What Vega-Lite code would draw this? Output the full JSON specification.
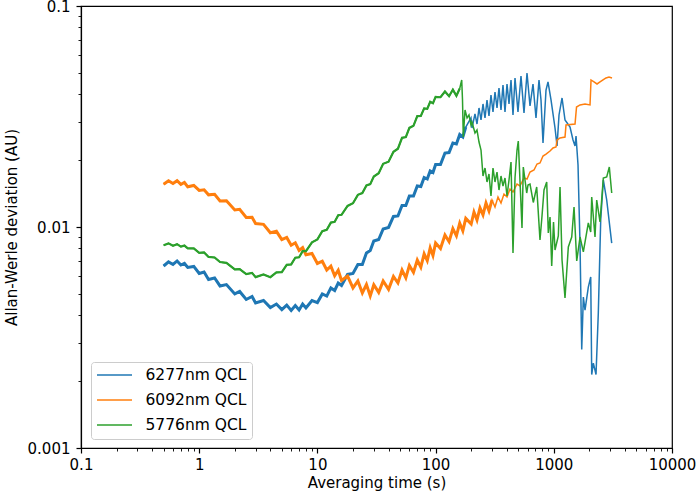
{
 "$schema": "https://vega.github.io/schema/vega-lite/v6.json",
 "width": 591,
 "height": 442,
 "autosize": {"type": "none"},
 "padding": {"left": 81, "top": 6, "right": 26, "bottom": 50},
 "background": "white",
 "datasets": {
  "blue": [
   [0.5,0.00666],[0.55,0.00695],[0.6,0.00677],[0.65,0.00702],[0.7,0.00673],[0.75,0.00684],[0.8,0.00656],[0.9,0.00663],[1,0.00616],[1.1,0.00626],[1.2,0.00579],[1.35,0.00588],[1.5,0.00541],[1.7,0.00549],[2,0.00498],[2.2,0.00511],[2.5,0.0047],[2.8,0.00485],[3,0.00453],[3.5,0.00465],[4,0.00432],[4.5,0.00448],[5,0.00423],[5.5,0.00443],[6,0.00419],[6.5,0.00441],[7,0.00421],[7.5,0.00448],[8,0.0043],[9,0.00465],[10,0.00455],[11,0.00498],[12,0.00487],[13,0.0053],[14,0.00516],[15,0.00558],[16,0.00544],[18,0.0061],[20,0.00616],[22,0.00677],[24,0.00677],[26,0.00763],[28,0.00783],[30,0.00864],[33,0.00878],[36,0.0098],[40,0.00995],[44,0.01116],[48,0.01122],[52,0.01251],[56,0.01251],[60,0.01381],[65,0.01381],[70,0.01533],[75,0.01525],[80,0.01675],[85,0.01649],[90,0.01792],[95,0.01764],[100,0.01918],[110,0.01918],[120,0.02161],[130,0.02173],[140,0.02399],[150,0.02374],[160,0.02622],[170,0.02554],[180,0.02834],
   [199.2,0.03114],[203.2,0.02805],[215.4,0.03247],[224,0.02925],[232.9,0.03456],[242.2,0.03049],[251.8,0.03603],[261.8,0.03114],[272.2,0.03756],[282.9,0.0318],[294.2,0.03957],[305.9,0.03315],[318.1,0.04082],[330.8,0.03456],[343.8,0.04256],[357.5,0.03385],[371.7,0.04391],[386.5,0.03315],[401.9,0.04437],[417.9,0.03603],[434.5,0.04626],[451.7,0.03213],[469.7,0.04723],[497.8,0.03315],[527.8,0.04822],[559.7,0.03281],[593.4,0.04976],[629.1,0.03529],[666.9,0.04437],[707.1,0.03114],[749.5,0.04626],[779.4,0.03756],[810.4,0.02399],[859.2,0.04168],[893.3,0.04531],[947.2,0.03756],[1024,0.02805],[1065,0.02325],[1107,0.03213],[1174,0.03835],[1244,0.03049],[1372,0.02834],[1454,0.02475],[1512,0.02325],[1542,0.02581],[1603,0.01908],[1667,0.00829],[1723,0.00279],[1778,0.00482],[1837,0.00421],[1959,0.00535],[2053,0.00594],[2093,0.00215],[2160,0.00242],[2276,0.00215],[2380,0.00408],[2494,0.01076],[2624,0.01632],[2803,0.01325],[3090,0.00846]
  ],
  "orange": [
   [0.5,0.0156],[0.55,0.01618],[0.6,0.01573],[0.65,0.0162],[0.7,0.0156],[0.75,0.0159],[0.8,0.0152],[0.9,0.01541],[1,0.01464],[1.1,0.01473],[1.2,0.01398],[1.35,0.01405],[1.5,0.01311],[1.7,0.01314],[2,0.01194],[2.2,0.01203],[2.5,0.01104],[2.8,0.01106],[3,0.01036],[3.5,0.01028],[4,0.00942],[4.5,0.00956],[5,0.00877],[5.5,0.00897],[6,0.00827],[6.5,0.00848],[7,0.00783],[7.5,0.00806],[8,0.00749],[9,0.00759],[10,0.00684],[11,0.007],[12,0.00639],[13,0.00665],[14,0.00602],[15,0.00637],[16,0.00573],[18,0.006],[20,0.0053],[22,0.0057],[24,0.00503],[26,0.00549],[28,0.00488],[30,0.00548],[33,0.00506],[36,0.0057],[40,0.00522],[44,0.00597],[48,0.00558],[52,0.00639],[56,0.00589],[60,0.0067],[65,0.00623],[70,0.00709],[75,0.00658],[80,0.00756],[85,0.00704],[90,0.00805],[95,0.00743],[100,0.00846],[110,0.00799],[120,0.0092],[130,0.00858],[140,0.00983],[150,0.00912],[160,0.01041],[170,0.00961],[180,0.01094],[200,0.01032],
   [211.2,0.01169],[224,0.01076],[237.5,0.01219],[251.8,0.01134],[267,0.01284],[282.9,0.01182],[300,0.01325],[318.1,0.01232],[337.2,0.01367],[357.5,0.01284],[379,0.0141],[401.9,0.01367],[426.1,0.01486],[451.7,0.0144],[488.4,0.01565],[517.6,0.01533],[559.7,0.01666],[593.4,0.01649],[629.1,0.01773],[680,0.01811],[721,0.01928],[764.3,0.01948],[810.4,0.02095],[859.2,0.02139],[928.9,0.02207],[984.9,0.02277],[1044,0.02301],[1065,0.02475],[1129,0.02528],[1244,0.02554],[1268.5,0.02894],[1512,0.02925],[1557,0.03492],[1667,0.03566],[1837,0.03603],[2025,0.03566],[2065,0.04626],[2189,0.04531],[2321,0.04437],[2460,0.04531],[2608,0.04626],[2765,0.04723],[2931,0.04772],[3108,0.04723]
  ],
  "green": [
   [0.5,0.00826],[0.55,0.00843],[0.6,0.00823],[0.65,0.00836],[0.7,0.00815],[0.75,0.00824],[0.8,0.00801],[0.9,0.008],[1,0.00764],[1.1,0.00767],[1.2,0.00732],[1.35,0.00728],[1.5,0.00694],[1.7,0.00688],[2,0.00643],[2.2,0.00645],[2.5,0.00612],[2.8,0.0062],[3,0.00593],[3.5,0.0061],[4,0.00593],[4.5,0.00623],[5,0.00625],[5.5,0.00674],[6,0.00677],[6.5,0.00726],[7,0.00729],[7.5,0.00777],[8,0.00777],[9,0.00853],[10,0.00879],[11,0.00957],[12,0.00972],[13,0.01047],[14,0.01056],[15,0.0113],[16,0.01135],[18,0.01246],[20,0.01281],[22,0.01398],[24,0.01425],[26,0.01542],[28,0.01563],[30,0.01692],[33,0.01751],[36,0.01932],[40,0.01975],[44,0.02188],[48,0.02261],[52,0.02533],[56,0.02551],[60,0.02808],[65,0.0287],[70,0.03177],[75,0.0318],[80,0.03442],[85,0.03424],[90,0.03686],[95,0.03629],[100,0.03877],[110,0.03865],[120,0.04103],[130,0.03908],[140,0.04185],[150,0.03924],[160,0.04233],
   [166.3,0.04626],[168.9,0.03756],[171.5,0.02554],[177.4,0.03385],[184.5,0.03114],[191.6,0.03213],[199.2,0.02894],[203.2,0.02986],[215.4,0.02663],[224,0.02748],[232.9,0.02424],[242.2,0.0223],[251.8,0.01701],[261.8,0.01849],[272.2,0.01598],[282.9,0.01737],[294.2,0.01381],[305.9,0.01849],[318.1,0.01598],[330.8,0.01773],[343.8,0.0147],[357.5,0.01701],[371.7,0.01533],[386.5,0.01666],[401.9,0.01381],[417.9,0.01632],[434.5,0.01968],[451.7,0.00763],[469.7,0.01666],[488.4,0.0223],[500.7,0.02449],[517.6,0.01615],[538.2,0.0099],[552,0.01869],[589.9,0.01425],[605.1,0.01549],[629.1,0.01565],[670.8,0.01291],[716.8,0.01517],[764.3,0.00873],[794.7,0.01122],[826.3,0.0147],[871,0.01598],[898.6,0.0094],[928.9,0.0111],[960.2,0.00666],[994.5,0.01054],[1024,0.00787],[1092,0.00911],[1129,0.01517],[1174,0.00709],[1244,0.00477],[1327,0.00812],[1418,0.00901],[1483,0.01232],[1563,0.00702],[1667,0.00901],[1778,0.00771],[1959,0.01043],[2053,0.00949],[2093,0.01367],[2232,0.00901],[2307,0.01325],[2460,0.01054],[2624,0.01666],[2803,0.01684],[2949,0.01869],[3090,0.01425]
  ]
 },
 "layer": [
  {
   "data": {"name": "blue"},
   "transform": [
    {"calculate": "datum[0]", "as": "t"},
    {"calculate": "datum[1]", "as": "v"},
    {"calculate": "'6277nm QCL'", "as": "s"},
    {"filter": "datum.t <= 181"}
   ],
   "mark": {"type": "line", "strokeWidth": 3, "clip": true},
   "encoding": {"x": {"field": "t", "type": "quantitative"}, "y": {"field": "v", "type": "quantitative"}, "color": {"field": "s", "type": "nominal"}}
  },
  {
   "data": {"name": "blue"},
   "transform": [
    {"calculate": "datum[0]", "as": "t"},
    {"calculate": "datum[1]", "as": "v"},
    {"calculate": "'6277nm QCL'", "as": "s"}
   ],
   "mark": {"type": "line", "strokeWidth": 1.5, "clip": true},
   "encoding": {"x": {"field": "t", "type": "quantitative"}, "y": {"field": "v", "type": "quantitative"}, "color": {"field": "s", "type": "nominal"}}
  },
  {
   "data": {"name": "orange"},
   "transform": [
    {"calculate": "datum[0]", "as": "t"},
    {"calculate": "datum[1]", "as": "v"},
    {"calculate": "'6092nm QCL'", "as": "s"},
    {"filter": "datum.t <= 300"}
   ],
   "mark": {"type": "line", "strokeWidth": 3, "clip": true},
   "encoding": {"x": {"field": "t", "type": "quantitative"}, "y": {"field": "v", "type": "quantitative"}, "color": {"field": "s", "type": "nominal"}}
  },
  {
   "data": {"name": "orange"},
   "transform": [
    {"calculate": "datum[0]", "as": "t"},
    {"calculate": "datum[1]", "as": "v"},
    {"calculate": "'6092nm QCL'", "as": "s"}
   ],
   "mark": {"type": "line", "strokeWidth": 1.5, "clip": true},
   "encoding": {"x": {"field": "t", "type": "quantitative"}, "y": {"field": "v", "type": "quantitative"}, "color": {"field": "s", "type": "nominal"}}
  },
  {
   "data": {"name": "green"},
   "transform": [
    {"calculate": "datum[0]", "as": "t"},
    {"calculate": "datum[1]", "as": "v"},
    {"calculate": "'5776nm QCL'", "as": "s"},
    {"filter": "datum.t <= 161"}
   ],
   "mark": {"type": "line", "strokeWidth": 2.2, "clip": true},
   "encoding": {"x": {"field": "t", "type": "quantitative"}, "y": {"field": "v", "type": "quantitative"}, "color": {"field": "s", "type": "nominal"}}
  },
  {
   "data": {"name": "green"},
   "transform": [
    {"calculate": "datum[0]", "as": "t"},
    {"calculate": "datum[1]", "as": "v"},
    {"calculate": "'5776nm QCL'", "as": "s"}
   ],
   "mark": {"type": "line", "strokeWidth": 1.5, "clip": true},
   "encoding": {"x": {"field": "t", "type": "quantitative"}, "y": {"field": "v", "type": "quantitative"}, "color": {"field": "s", "type": "nominal"}}
  }
 ],
 "encoding": {
  "x": {
   "field": "t", "type": "quantitative",
   "scale": {"type": "log", "domain": [0.1, 10000], "nice": false},
   "axis": {
    "title": "Averaging time (s)",
    "values": [0.1,0.2,0.3,0.4,0.5,0.6,0.7,0.8,0.9,1,2,3,4,5,6,7,8,9,10,20,30,40,50,60,70,80,90,100,200,300,400,500,600,700,800,900,1000,2000,3000,4000,5000,6000,7000,8000,9000,10000],
    "format": "~g",
    "labelExpr": "abs(log(datum.value)/LN10 - round(log(datum.value)/LN10)) < 0.001 ? datum.label : ''",
    "tickSize": {"condition": {"test": "abs(log(datum.value)/LN10 - round(log(datum.value)/LN10)) < 0.001", "value": 5}, "value": 3},
    "tickWidth": {"condition": {"test": "abs(log(datum.value)/LN10 - round(log(datum.value)/LN10)) < 0.001", "value": 1.2}, "value": 0.9},
    "labelPadding": 4,
    "titlePadding": 3
   }
  },
  "y": {
   "field": "v", "type": "quantitative",
   "scale": {"type": "log", "domain": [0.001, 0.1], "nice": false},
   "axis": {
    "title": "Allan-Werle deviation (AU)",
    "values": [0.001,0.002,0.003,0.004,0.005,0.006,0.007,0.008,0.009,0.01,0.02,0.03,0.04,0.05,0.06,0.07,0.08,0.09,0.1],
    "format": "~g",
    "labelExpr": "abs(log(datum.value)/LN10 - round(log(datum.value)/LN10)) < 0.001 ? datum.label : ''",
    "tickSize": {"condition": {"test": "abs(log(datum.value)/LN10 - round(log(datum.value)/LN10)) < 0.001", "value": 5}, "value": 3},
    "tickWidth": {"condition": {"test": "abs(log(datum.value)/LN10 - round(log(datum.value)/LN10)) < 0.001", "value": 1.2}, "value": 0.9},
    "labelPadding": 6,
    "titlePadding": 8
   }
  },
  "color": {
   "field": "s", "type": "nominal",
   "scale": {"domain": ["6277nm QCL", "6092nm QCL", "5776nm QCL"], "range": ["#1f77b4", "#ff7f0e", "#2ca02c"]},
   "legend": {
    "title": null,
    "orient": "bottom-left",
    "offset": 9.5,
    "padding": 5,
    "fillColor": "rgba(255,255,255,0.8)",
    "strokeColor": "#cccccc",
    "cornerRadius": 3,
    "symbolType": "M-2.5,0L2.5,0",
    "symbolSize": 196,
    "symbolStrokeWidth": 1.5,
    "symbolOffset": 10.5,
    "labelOffset": 23,
    "labelFontSize": 15.5,
    "labelFont": "DejaVu Sans",
    "labelColor": "black",
    "rowPadding": 8
   }
  }
 },
 "config": {
  "view": {"stroke": "black", "strokeWidth": 1.2},
  "axis": {
   "grid": false,
   "domainColor": "black",
   "domainWidth": 1.2,
   "tickColor": "black",
   "labelFont": "DejaVu Sans",
   "labelFontSize": 15,
   "labelColor": "black",
   "labelFlush": false,
   "labelOverlap": false,
   "titleFont": "DejaVu Sans",
   "titleFontSize": 15,
   "titleFontWeight": "normal",
   "titleColor": "black"
  }
 }
}
